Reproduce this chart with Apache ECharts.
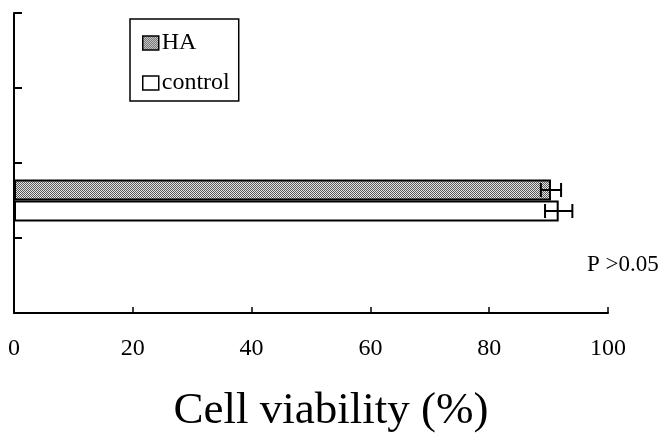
<!DOCTYPE html>
<html>
<head>
<meta charset="utf-8">
<script src="https://cdn.jsdelivr.net/npm/echarts@6/dist/echarts.min.js"></script>
<style>html,body{margin:0;padding:0;background:#fff;}#c{width:662px;height:433px;}</style>
</head>
<body>
<div id="c"></div>
<script>
// ---- data ----
var categories = ['band0', 'cells', 'band2', 'band3'];
var seriesNames = ['HA', 'control'];
var haValues = [null, 90.4, null, null];
var controlValues = [null, 91.7, null, null];
var haErrors = [null, 1.7, null, null];
var controlErrors = [null, 2.3, null, null];
var xTicks = [0, 20, 40, 60, 80, 100];
var xAxisTitle = 'Cell viability (%)';
var note = 'P >0.05';

// ---- stipple pattern ----
function makePattern() {
  var c = document.createElement('canvas');
  c.width = 4; c.height = 4;
  var g = c.getContext('2d');
  g.fillStyle = '#e4e4e4'; g.fillRect(0, 0, 4, 4);
  g.fillStyle = '#5a5a5a';
  g.fillRect(0, 0, 1, 1); g.fillRect(2, 0, 1, 1);
  g.fillRect(1, 1, 1, 1); g.fillRect(3, 1, 1, 1);
  g.fillRect(0, 2, 1, 1); g.fillRect(2, 2, 1, 1);
  g.fillRect(1, 3, 1, 1); g.fillRect(3, 3, 1, 1);
  return { image: c, repeat: 'repeat' };
}
var pattern = makePattern();
var BAR_W = 21;
var FONT = '"Liberation Serif", "Times New Roman", serif';

function errorSeries(values, errs, sign) {
  var data = [];
  for (var i = 0; i < values.length; i++) {
    if (values[i] != null) data.push([values[i], i, errs[i]]);
  }
  return {
    type: 'custom',
    silent: true,
    z: 5,
    data: data,
    renderItem: function (params, api) {
      var v = api.value(0), cat = api.value(1), e = api.value(2);
      var lo = api.coord([v - e, cat]);
      var hi = api.coord([v + e, cat]);
      var y = lo[1] + sign * BAR_W / 2;
      var cap = 7;
      var st = { stroke: '#000', lineWidth: 2 };
      return {
        type: 'group',
        children: [
          { type: 'line', shape: { x1: lo[0], y1: y, x2: hi[0], y2: y }, style: st },
          { type: 'line', shape: { x1: lo[0], y1: y - cap, x2: lo[0], y2: y + cap }, style: st },
          { type: 'line', shape: { x1: hi[0], y1: y - cap, x2: hi[0], y2: y + cap }, style: st }
        ]
      };
    }
  };
}

var chart = echarts.init(document.getElementById('c'), null, { renderer: 'canvas' });
chart.setOption({
  animation: false,
  backgroundColor: '#fff',
  textStyle: { fontFamily: FONT },
  grid: { left: 14, right: 54, top: 13, bottom: 120, containLabel: false, outerBoundsMode: 'none' },
  legend: {
    data: seriesNames,
    orient: 'vertical',
    left: 130, top: 19,
    padding: [12, 9, 6, 12],
    icon: 'rect',
    itemWidth: 16, itemHeight: 14, itemGap: 16,
    borderColor: '#000', borderWidth: 1.5,
    textStyle: { fontFamily: FONT, fontSize: 24, color: '#000', padding: [0, 0, 0, -2] },
    itemStyle: { borderColor: '#000', borderWidth: 1.5 }
  },
  xAxis: {
    type: 'value', min: 0, max: 100, interval: 20,
    axisLine: { show: true, lineStyle: { color: '#000', width: 2 } },
    axisTick: { show: true, inside: true, length: 6, lineStyle: { color: '#000', width: 1.5 } },
    splitLine: { show: false },
    axisLabel: {
      margin: 24, fontFamily: FONT, fontSize: 24, color: '#000',
      formatter: function (v) { return xTicks.indexOf(v) >= 0 ? String(v) : ''; }
    },
    name: xAxisTitle, nameLocation: 'middle', nameGap: 76,
    nameTextStyle: { fontFamily: FONT, fontSize: 45, color: '#000', padding: [0, 0, 0, 40] }
  },
  yAxis: {
    type: 'category', data: categories,
    axisLine: { show: true, lineStyle: { color: '#000', width: 2 } },
    axisTick: { show: true, inside: true, length: 8, lineStyle: { color: '#000', width: 2 } },
    axisLabel: { show: false },
    splitLine: { show: false }
  },
  series: [
    {
      name: 'HA', type: 'bar', data: haValues, barWidth: BAR_W, barGap: '0%',
      itemStyle: { color: pattern, borderColor: '#000', borderWidth: 2 }
    },
    {
      name: 'control', type: 'bar', data: controlValues, barWidth: BAR_W, barGap: '0%',
      itemStyle: { color: '#fff', borderColor: '#000', borderWidth: 2 }
    },
    errorSeries(haValues, haErrors, -1),
    errorSeries(controlValues, controlErrors, 1)
  ],
  graphic: [
    { type: 'text', left: 587, top: 253, style: { text: note, font: '23px ' + FONT, fill: '#000' } }
  ]
});
</script>
</body>
</html>
